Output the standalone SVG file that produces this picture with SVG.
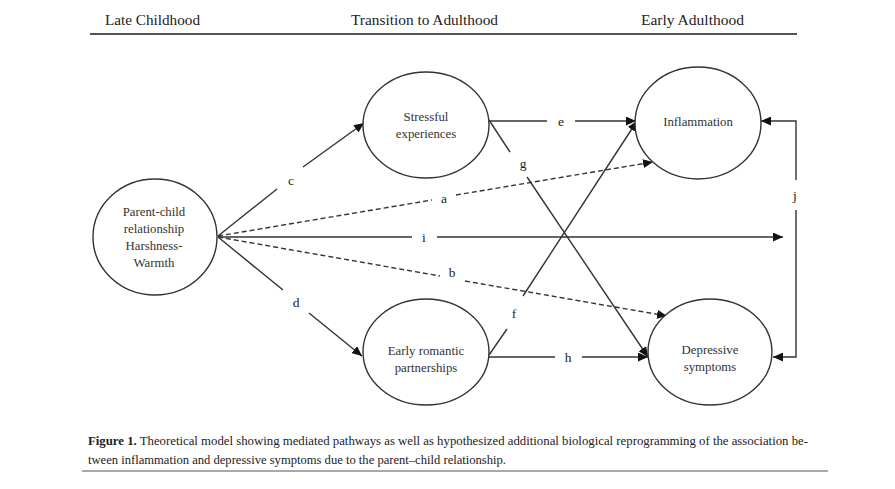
<svg xmlns="http://www.w3.org/2000/svg" width="895" height="489" viewBox="0 0 895 489" font-family="Liberation Serif, Times New Roman, serif">
<style>
text{font-family:"Liberation Serif","Times New Roman",serif}
.hdr{font-size:14.5px;fill:#222}
.nt{font-size:12.8px;fill:#333;text-anchor:middle}
.lb{font-size:13.5px;fill:#222;text-anchor:middle}
.cap{font-size:11.5px;fill:#222}
.node{fill:#fff;stroke:#333;stroke-width:1.4}
.ln{stroke:#333;stroke-width:1.4;fill:none}
.ds{stroke:#333;stroke-width:1.4;fill:none;stroke-dasharray:5,3}
</style>
<defs>
<marker id="ah" markerUnits="userSpaceOnUse" markerWidth="11" markerHeight="9" refX="10" refY="4.5" orient="auto">
<path d="M0,0 L10,4.5 L0,9 z" fill="#111"/>
</marker>
</defs>
<rect width="895" height="489" fill="#fff"/>
<g id="header">
<text class="hdr" x="105" y="25" textLength="95" lengthAdjust="spacingAndGlyphs">Late Childhood</text>
<text class="hdr" x="351" y="25" textLength="147" lengthAdjust="spacingAndGlyphs">Transition to Adulthood</text>
<text class="hdr" x="641" y="25" textLength="103" lengthAdjust="spacingAndGlyphs">Early Adulthood</text>
<line x1="90" y1="34" x2="797" y2="34" stroke="#555" stroke-width="2.2"/>
</g>
<g id="connectors">
<line class="ln" x1="218" y1="236" x2="277" y2="189"/>
<line class="ln" x1="303" y1="167" x2="364" y2="123" marker-end="url(#ah)"/>
<text class="lb" x="291" y="185">c</text>
<line class="ln" x1="218" y1="237" x2="283" y2="290"/>
<line class="ln" x1="309" y1="313" x2="362" y2="356" marker-end="url(#ah)"/>
<text class="lb" x="296" y="307">d</text>
<line class="ds" x1="218" y1="236" x2="432" y2="200"/>
<line class="ds" x1="456" y1="195" x2="653" y2="162" marker-end="url(#ah)"/>
<text class="lb" x="444" y="203">a</text>
<line class="ln" x1="218" y1="237" x2="412" y2="237"/>
<line class="ln" x1="437" y1="237" x2="783" y2="237" marker-end="url(#ah)"/>
<text class="lb" x="424" y="242">i</text>
<line class="ds" x1="218" y1="237" x2="440" y2="276"/>
<line class="ds" x1="465" y1="281" x2="667" y2="316" marker-end="url(#ah)"/>
<text class="lb" x="452" y="277">b</text>
<line class="ln" x1="489" y1="121" x2="547" y2="121"/>
<line class="ln" x1="575" y1="121" x2="636" y2="121" marker-end="url(#ah)"/>
<text class="lb" x="561" y="126">e</text>
<line class="ln" x1="489" y1="120" x2="510" y2="152"/>
<line class="ln" x1="527" y1="177" x2="648" y2="357" marker-end="url(#ah)"/>
<text class="lb" x="523" y="168">g</text>
<line class="ln" x1="489" y1="355" x2="507" y2="329"/>
<line class="ln" x1="523" y1="296" x2="637" y2="121" marker-end="url(#ah)"/>
<text class="lb" x="514" y="318">f</text>
<line class="ln" x1="489" y1="357" x2="555" y2="357"/>
<line class="ln" x1="582" y1="357" x2="648" y2="357" marker-end="url(#ah)"/>
<text class="lb" x="568" y="362">h</text>
<polyline class="ln" points="796,180 796,121 761,121" marker-end="url(#ah)"/>
<polyline class="ln" points="796,210 796,357 773,357" marker-end="url(#ah)"/>
<text class="lb" x="795" y="200">j</text>
</g>
<g id="parent">
<ellipse class="node" cx="155" cy="237" rx="62" ry="58"/>
<text class="nt" x="154" y="216">Parent-child</text>
<text class="nt" x="154" y="233">relationship</text>
<text class="nt" x="154" y="250">Harshness-</text>
<text class="nt" x="154" y="267">Warmth</text>
</g>
<g id="stressful">
<ellipse class="node" cx="426" cy="125" rx="63" ry="53"/>
<text class="nt" x="426" y="121">Stressful</text>
<text class="nt" x="426" y="138">experiences</text>
</g>
<g id="romantic">
<ellipse class="node" cx="426" cy="352" rx="63" ry="53"/>
<text class="nt" x="426" y="355">Early romantic</text>
<text class="nt" x="426" y="372">partnerships</text>
</g>
<g id="inflammation">
<ellipse class="node" cx="698" cy="123" rx="63" ry="56"/>
<text class="nt" x="698" y="126">Inflammation</text>
</g>
<g id="depressive">
<ellipse class="node" cx="710" cy="352" rx="62" ry="53"/>
<text class="nt" x="710" y="354">Depressive</text>
<text class="nt" x="710" y="371">symptoms</text>
</g>
<g id="caption">
<text class="cap" x="88" y="445" textLength="720" lengthAdjust="spacingAndGlyphs"><tspan font-weight="bold">Figure 1.</tspan> Theoretical model showing mediated pathways as well as hypothesized additional biological reprogramming of the association be-</text>
<text class="cap" x="88" y="464" textLength="418" lengthAdjust="spacingAndGlyphs">tween inflammation and depressive symptoms due to the parent–child relationship.</text>
<line x1="82" y1="471" x2="828" y2="471" stroke="#555" stroke-width="1.2"/>
</g>
</svg>
